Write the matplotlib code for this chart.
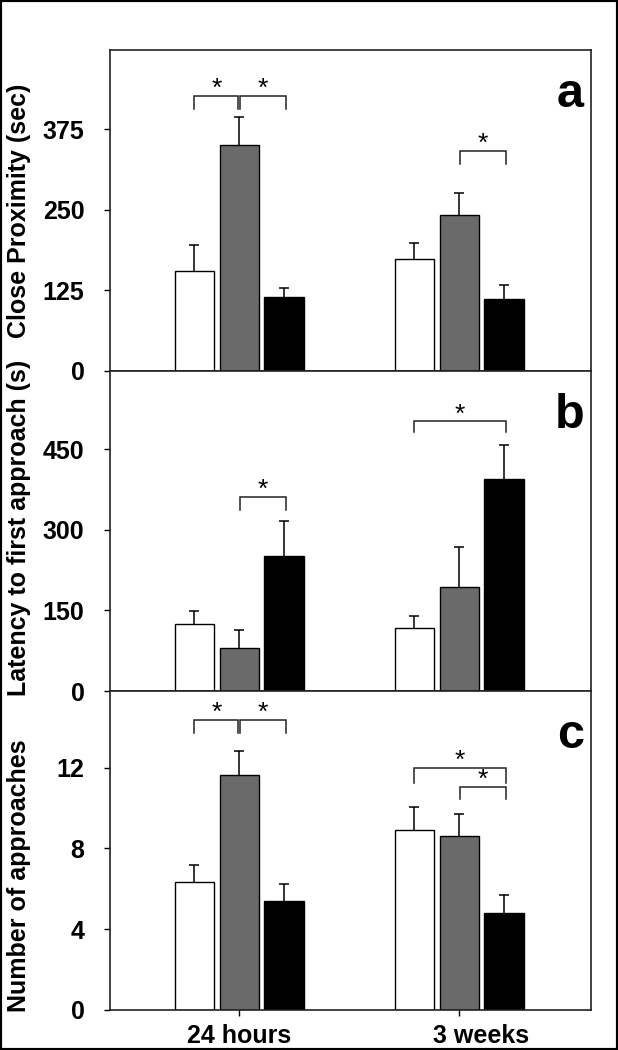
import matplotlib
matplotlib.use("Agg")
import matplotlib.pyplot as plt
import matplotlib.transforms as mtransforms
from matplotlib.patches import Rectangle
import numpy as np

plt.rcParams['font.family'] = ['Liberation Sans', 'DejaVu Sans']

groups = ['24 hours', '3 weeks']
bar_colors = ['white', '#6a6a6a', 'black']

# panel a: close proximity (sec)
prox_white = [155, 174]
prox_white_err = [40, 25]
prox_gray = [351, 242]
prox_gray_err = [43, 34]
prox_black = [114, 112]
prox_black_err = [15, 22]

# panel b: latency to first approach (s)
lat_white = [124, 118]
lat_white_err = [25, 22]
lat_gray = [80, 194]
lat_gray_err = [34, 75]
lat_black = [251, 395]
lat_black_err = [65, 64]

# panel c: number of approaches
app_white = [6.36, 8.91]
app_white_err = [0.84, 1.14]
app_gray = [11.63, 8.63]
app_gray_err = [1.21, 1.06]
app_black = [5.42, 4.81]
app_black_err = [0.84, 0.91]

# significance pairs: (group, bar_i, bar_j)
sig_a = [(0, 0, 1), (0, 1, 2), (1, 1, 2)]
sig_b = [(0, 1, 2), (1, 0, 2)]
sig_c = [(0, 0, 1), (0, 1, 2), (1, 0, 2), (1, 1, 2)]

panels = [
    dict(label='a', ylabel='Close Proximity (sec)', ylim=498, ticks=[0, 125, 250, 375],
         vals=[prox_white, prox_gray, prox_black],
         errs=[prox_white_err, prox_gray_err, prox_black_err],
         sig=sig_a, heights=[(426, 407), (426, 407), (342, 321)], ylab_y=0.5),
    dict(label='b', ylabel='Latency to first approach (s)', ylim=596, ticks=[0, 150, 300, 450],
         vals=[lat_white, lat_gray, lat_black],
         errs=[lat_white_err, lat_gray_err, lat_black_err],
         sig=sig_b, heights=[(361, 338), (502, 482)], ylab_y=0.51),
    dict(label='c', ylabel='Number of approaches', ylim=15.8, ticks=[0, 4, 8, 12],
         vals=[app_white, app_gray, app_black],
         errs=[app_white_err, app_gray_err, app_black_err],
         sig=sig_c, heights=[(14.38, 13.72), (14.38, 13.72), (11.97, 11.25), (11.06, 10.45)],
         ylab_y=0.42),
]

fig = plt.figure(figsize=(6.18, 10.5), dpi=100)
left, width = 0.1773, 0.7795
bottoms = [0.6467, 0.3419, 0.0381]
heights_ax = [0.9524 - 0.6467, 0.6467 - 0.3419, 0.3419 - 0.0381]

x = np.arange(len(groups))
offset = 0.204
bw = 0.18

for k, p in enumerate(panels):
    ax = fig.add_axes([left, bottoms[k], width, heights_ax[k]])
    for i in range(3):
        xs = x + (i - 1) * offset
        ax.bar(xs, p['vals'][i], bw, color=bar_colors[i], edgecolor='black', linewidth=1.0, zorder=2)
        _, caps, _ = ax.errorbar(xs, p['vals'][i], yerr=[np.zeros(len(groups)), p['errs'][i]],
                                 fmt='none', ecolor='black', elinewidth=1.1, capsize=3.5,
                                 capthick=1.1, zorder=1)
        caps[0].set_visible(False)

    ax.set_xlim(-0.59, 1.6)
    ax.set_ylim(0, p['ylim'])
    ax.set_yticks(p['ticks'])
    ax.set_yticklabels([str(t) for t in p['ticks']], fontsize=18, fontweight='bold')
    ax.tick_params(axis='y', direction='out', length=4, width=1, pad=14)
    ax.set_ylabel(p['ylabel'], fontsize=18, fontweight='bold', va='center')
    ax.yaxis.set_label_coords(-0.188, p['ylab_y'])
    for s in ax.spines.values():
        s.set_linewidth(1.2)
        s.set_color('#222222')

    if k < 2:
        ax.set_xticks([])
    else:
        ax.set_xticks(x)
        ax.set_xticklabels(groups, fontsize=18, fontweight='bold')
        ax.tick_params(axis='x', direction='out', length=4, width=1, pad=6)
        lab = ax.get_xticklabels()[1]
        lab.set_transform(lab.get_transform() + mtransforms.ScaledTranslation(0.22, 0, fig.dpi_scale_trans))

    # significance brackets
    for (g, bi, bj), (ytop, ybot) in zip(p['sig'], p['heights']):
        x0 = g + (bi - 1) * offset + (0.005 if bi == 1 else 0)
        x1 = g + (bj - 1) * offset - (0.005 if bj == 1 else -0.008)
        ax.plot([x0, x0, x1, x1], [ybot, ytop, ytop, ybot], color='#222222', lw=1.1,
                solid_joinstyle='miter', zorder=4)
        ax.text((x0 + x1) / 2, ytop + 0.022 * p['ylim'], '*', ha='center', va='center',
                fontsize=19, zorder=5)

    ax.text(0.985, 0.93, p['label'], transform=ax.transAxes, ha='right', va='top',
            fontsize=35, fontweight='bold')

fig.patches.append(Rectangle((0, 0), 1, 1, transform=fig.transFigure, fill=False,
                             edgecolor='black', linewidth=3))

fig.savefig('out.png', dpi=100)
